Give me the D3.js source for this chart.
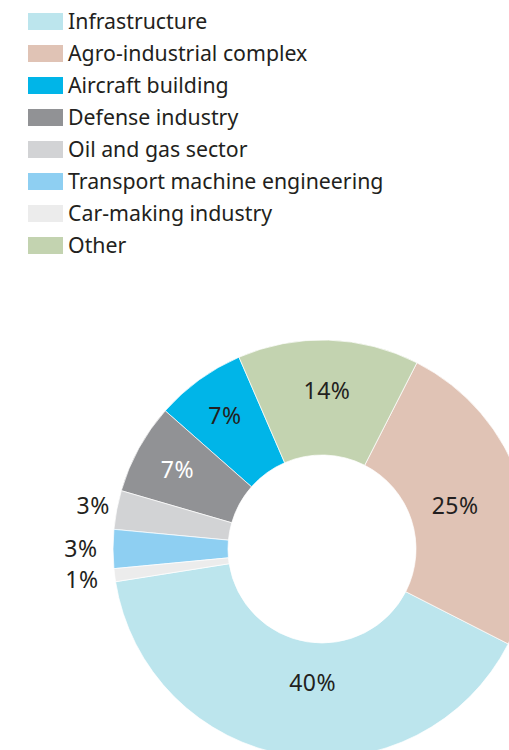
<!DOCTYPE html>
<html>
<head>
<meta charset="utf-8">
<script src="https://cdn.jsdelivr.net/npm/d3@7"></script>
<style>
  body { margin: 0; background: #fff; }
  #container { width: 509px; height: 750px; overflow: hidden; }
</style>
</head>
<body>
<div id="container"></div>
<script>
// data (legend order)
let categories = ["Infrastructure", "Agro-industrial complex", "Aircraft building", "Defense industry",
  "Oil and gas sector", "Transport machine engineering", "Car-making industry", "Other"];
let shares = [40, 25, 7, 7, 3, 3, 1, 14];
let colors = ["#bce5ed", "#e0c3b5", "#00b5e8", "#919295", "#d2d3d5", "#8ecff2", "#ececec", "#c3d3b0"];
// order of slices going clockwise round the ring
let ringOrder = ["Agro-industrial complex", "Infrastructure", "Car-making industry",
  "Transport machine engineering", "Oil and gas sector", "Defense industry", "Aircraft building", "Other"];

let w = 509;
let h = 750;
let textColor = "#231f20";

let viz = d3.select("#container")
  .append("svg")
    .attr("width", w)
    .attr("height", h)
;

let data = categories.map(function(c, i) {
  return { name: c, value: shares[i], color: colors[i] };
});

// legend
let legend = viz.append("g").attr("class", "legend");
let rows = legend.selectAll(".row").data(data).enter()
  .append("g")
    .attr("class", "row")
    .attr("transform", function(d, i) { return "translate(28," + (13 + i * 32) + ")"; })
;
rows.append("rect")
    .attr("width", 35)
    .attr("height", 17)
    .attr("fill", function(d) { return d.color; })
;
rows.append("text")
    .attr("x", 40)
    .attr("y", 16)
    .attr("font-family", "'Noto Sans', sans-serif")
    .attr("font-size", 21.3)
    .attr("fill", textColor)
    .text(function(d) { return d.name; })
;

// donut
let cx = 322, cy = 549;
let rInner = 94, rOuter = 209;
let startDeg = 27;

let pie = d3.pie()
  .value(function(d) { return d.value; })
  .sort(function(a, b) { return ringOrder.indexOf(a.name) - ringOrder.indexOf(b.name); })
  .startAngle(startDeg * Math.PI / 180)
  .endAngle((startDeg + 360) * Math.PI / 180)
;
let arc = d3.arc().innerRadius(rInner).outerRadius(rOuter);

let arcs = pie(data);

let ring = viz.append("g").attr("transform", "translate(" + cx + "," + cy + ")");
ring.selectAll(".slice").data(arcs).enter()
  .append("path")
    .attr("class", "slice")
    .attr("d", arc)
    .attr("fill", function(d) { return d.data.color; })
    .attr("stroke", "#fff")
    .attr("stroke-width", 0.7)
;

// label placement: radius and angle nudge (degrees)
let labelPos = {
  "Infrastructure": { r: 134, da: -5 },
  "Agro-industrial complex": { r: 140, da: 0 },
  "Aircraft building": { r: 165, da: 0 },
  "Defense industry": { r: 165, da: 0 },
  "Oil and gas sector": { r: 233, da: 0 },
  "Transport machine engineering": { r: 241, da: 0 },
  "Car-making industry": { r: 242, da: 0 },
  "Other": { r: 158, da: 0 }
};

ring.selectAll(".label").data(arcs).enter()
  .append("text")
    .attr("class", "label")
    .attr("transform", function(d) {
      let p = labelPos[d.data.name];
      let a = (d.startAngle + d.endAngle) / 2 + p.da * Math.PI / 180;
      return "translate(" + (p.r * Math.sin(a)) + "," + (-p.r * Math.cos(a)) + ")";
    })
    .attr("text-anchor", "middle")
    .attr("dy", "0.36em")
    .attr("font-family", "'Noto Sans', sans-serif")
    .attr("font-size", 23)
    .attr("letter-spacing", 0.5)
    .attr("fill", function(d) { return d.data.name == "Defense industry" ? "#fff" : textColor; })
    .text(function(d) { return d.data.value + "%"; })
;
</script>
</body>
</html>
